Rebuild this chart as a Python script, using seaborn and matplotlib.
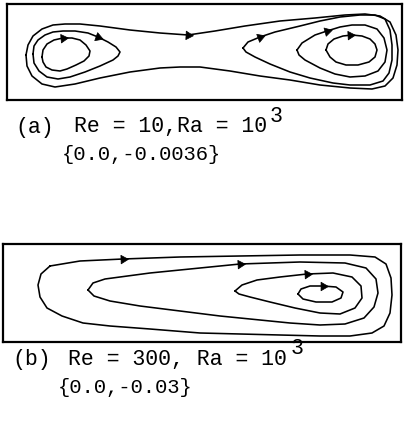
import matplotlib
matplotlib.use("Agg")
import matplotlib.pyplot as plt
import seaborn as sns
import pandas as pd

# Streamline loops, (x, y) in panel units (y grows downward)
# (a) Re = 10, Ra = 10^3
a_left_inner = [(42, 57), (43, 50), (47, 44), (54, 40), (63, 38), (72, 38), (80, 40), (86, 45),
                (90, 51), (89, 56), (84, 61), (76, 65), (67, 69), (60, 71), (52, 70), (46, 67), (43, 62)]
a_left_mid = [(33, 54), (34, 46), (38, 40), (45, 35), (53, 32), (63, 31), (75, 31), (88, 33),
              (98, 37), (108, 42), (116, 47), (120, 52), (118, 56), (113, 60), (100, 66), (85, 72),
              (70, 77), (58, 79), (47, 77), (39, 71), (34, 63)]
a_outer = [(26, 55), (28, 45), (33, 36), (42, 29), (53, 25), (65, 24), (80, 24), (100, 26),
           (130, 30), (160, 33), (188, 35), (215, 31), (245, 26), (280, 21), (315, 18), (345, 15),
           (365, 14), (380, 16), (390, 22), (396, 35), (398, 50), (397, 65), (393, 78), (385, 86),
           (372, 89), (350, 88), (320, 85), (290, 80), (260, 76), (230, 71), (200, 67), (180, 67),
           (160, 68), (130, 72), (100, 78), (75, 84), (55, 87), (42, 84), (32, 76), (27, 66)]
a_right_tear = [(243, 48), (248, 42), (260, 37), (275, 32), (300, 26), (320, 21), (340, 17),
                (360, 15), (375, 15), (385, 19), (390, 30), (392, 45), (392, 60), (389, 73),
                (383, 81), (370, 85), (350, 85), (333, 83), (310, 78), (290, 72), (270, 64),
                (255, 57), (246, 52)]
a_right_mid = [(297, 50), (302, 43), (315, 35), (327, 31), (340, 27), (352, 25), (365, 25),
               (377, 29), (384, 38), (387, 50), (385, 62), (378, 71), (365, 76), (350, 77),
               (335, 74), (320, 68), (305, 60), (299, 55)]
a_right_inner = [(326, 50), (328, 44), (334, 39), (343, 36), (352, 35), (362, 36), (370, 39),
                 (375, 44), (377, 50), (375, 57), (369, 62), (358, 65), (346, 65), (336, 62),
                 (330, 57)]

# (b) Re = 300, Ra = 10^3
b_outer = [(50, 266), (80, 261), (123, 259), (180, 257), (240, 256), (300, 255), (350, 255),
           (375, 257), (386, 264), (391, 278), (392, 295), (390, 313), (384, 326), (372, 333),
           (350, 336), (320, 336), (280, 335), (240, 334), (200, 333), (150, 329), (110, 326),
           (83, 323), (62, 316), (47, 308), (40, 297), (38, 285), (41, 274)]
b_second = [(88, 290), (93, 283), (105, 279), (150, 273), (200, 268), (240, 264), (300, 262),
            (345, 263), (366, 268), (376, 279), (378, 293), (374, 307), (364, 318), (345, 324),
            (320, 325), (290, 323), (260, 320), (220, 316), (180, 311), (140, 306), (110, 301),
            (94, 296)]
b_third = [(235, 291), (242, 285), (257, 280), (280, 277), (307, 274), (333, 273), (352, 277),
           (361, 286), (362, 298), (355, 308), (340, 314), (320, 313), (295, 308), (270, 302),
           (250, 297), (239, 294)]
b_inner = [(298, 294), (301, 289), (310, 286), (323, 286), (336, 287), (343, 292), (341, 298),
           (332, 302), (316, 302), (303, 299)]

# Flow-direction arrows: (x, y, heading in degrees, counter-clockwise from +x on screen)
a_arrows = [(63, 38, 5), (98, 37, -20), (188, 35, -3), (260, 37, 20), (327, 31, 15), (350, 35, 3)]
b_arrows = [(123, 259, 2), (240, 264, 3), (307, 274, 3), (323, 286, 0)]

a_title = ["(a)", "Re = 10,Ra = 10", "3", "{0.0,-0.0036}"]
b_title = ["(b)", "Re = 300, Ra = 10", "3", "{0.0,-0.03}"]

panels = {
    "a": {"loops": [a_left_inner, a_left_mid, a_outer, a_right_tear, a_right_mid, a_right_inner],
          "arrows": a_arrows},
    "b": {"loops": [b_outer, b_second, b_third, b_inner], "arrows": b_arrows},
}


def loops_frame(loops):
    rows = []
    for i, loop in enumerate(loops):
        pts = list(loop) + [loop[0]]
        for k, (x, y) in enumerate(pts):
            rows.append({"loop": i, "order": k, "x": x, "y": y})
    return pd.DataFrame(rows)


W, H = 405, 423
sns.set_style("white")
plt.rcParams["font.family"] = ["Liberation Mono", "DejaVu Sans Mono"]

fig = plt.figure(figsize=(W / 100, H / 100), dpi=100)
fig.patch.set_facecolor("white")

boxes = {"a": (7, 4, 402, 100), "b": (3, 244, 401, 342)}

for key, box in boxes.items():
    x0, y0, x1, y1 = box
    ax = fig.add_axes([x0 / W, 1 - y1 / H, (x1 - x0) / W, (y1 - y0) / H])
    df = loops_frame(panels[key]["loops"])
    sns.lineplot(data=df, x="x", y="y", units="loop", estimator=None, sort=False,
                 color="black", lw=1.15, ax=ax, legend=False)
    for (ax_x, ax_y, ang) in panels[key]["arrows"]:
        sns.scatterplot(x=[ax_x], y=[ax_y], marker=(3, 0, ang - 90), s=50,
                        color="black", edgecolor="black", linewidth=0.5, ax=ax, legend=False)
    ax.set_xlim(x0, x1)
    ax.set_ylim(y1, y0)
    ax.set_xticks([])
    ax.set_yticks([])
    ax.set_xlabel("")
    ax.set_ylabel("")
    for sp in ax.spines.values():
        sp.set_visible(True)
        sp.set_color("black")
        sp.set_linewidth(1.6)


def caption(parts, tag_x, body_x, sup_x, y_main, y_sub, sub_x):
    tag, body, sup, sub = parts
    kw = dict(color="black", fontsize=15.5, va="center", ha="left")
    fig.text(tag_x / W, 1 - y_main / H, tag, **kw)
    fig.text(body_x / W, 1 - y_main / H, body, **kw)
    fig.text(sup_x / W, 1 - (y_main - 11) / H, sup, **kw)
    fig.text(sub_x / W, 1 - y_sub / H, sub, color="black", fontsize=14.8, va="center", ha="left")


caption(a_title, 15, 74, 270, 127, 155, 62)
caption(b_title, 12, 68, 291, 359, 387, 58)

fig.savefig("out.png", dpi=100, facecolor="white")
